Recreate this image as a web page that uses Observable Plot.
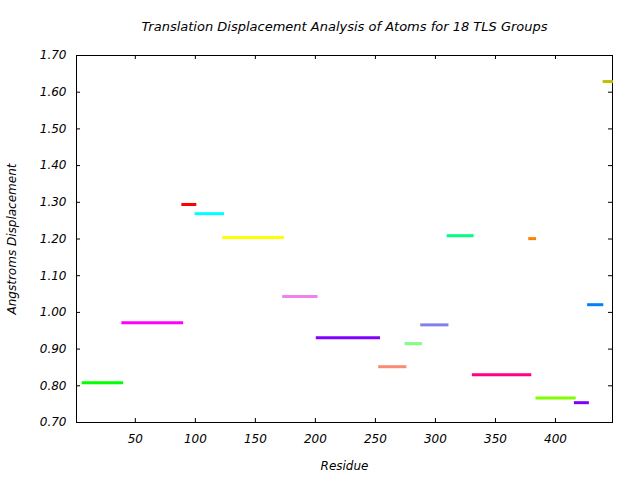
<!DOCTYPE html>
<html>
<head>
<meta charset="utf-8">
<script src="https://cdn.jsdelivr.net/npm/d3@7"></script>
<script src="https://cdn.jsdelivr.net/npm/@observablehq/plot@0.6"></script>
<style>
  html, body { margin: 0; padding: 0; background: #fff; }
  svg { font-family: "DejaVu Sans", sans-serif; font-style: italic; }
</style>
</head>
<body>
<div id="chart"></div>
<script>
// TLS group residue ranges, displacement values, and colors
const groupStart = [7, 40, 90, 101, 124, 174, 202, 254, 276, 289, 311, 332, 379, 385, 417, 428, 441];
const groupEnd   = [39, 89, 100, 123, 173, 201, 253, 275, 288, 310, 331, 379, 383, 416, 427, 439, 447];
const displacement = [0.808, 0.972, 1.294, 1.269, 1.204, 1.043, 0.931, 0.852, 0.915, 0.966, 1.209, 0.830, 1.201, 0.767, 0.754, 1.021, 1.629];
const groupColor = ["#00ff00", "#ff00ff", "#ff0000", "#00ffff", "#ffff00", "#ee82ee", "#8000ff", "#fa8a72",
                    "#80ff80", "#8080f0", "#00ff80", "#ff0080", "#ff8000", "#80ff00", "#8000ff", "#0080ff", "#c0c000"];
const xTicks = [50, 100, 150, 200, 250, 300, 350, 400];
const yTicks = [0.70, 0.80, 0.90, 1.00, 1.10, 1.20, 1.30, 1.40, 1.50, 1.60, 1.70];
const xDomain = [1, 447.5];
const yDomain = [0.70, 1.70];
const titleText = "Translation Displacement Analysis of Atoms for 18 TLS Groups";
const xLabel = "Residue";
const yLabel = "Angstroms Displacement";

const groups = groupStart.map((s, i) => ({start: s, end: groupEnd[i], value: displacement[i], color: groupColor[i]}));

const W = 640, H = 480;
const mL = 76, mR = 28, mT = 55, mB = 58;
const plotW = W - mL - mR, plotH = H - mT - mB;
const tickLen = 4;

const chart = Plot.plot({
  width: W,
  height: H,
  marginLeft: mL,
  marginRight: mR,
  marginTop: mT,
  marginBottom: mB,
  style: {fontSize: "12px", fontFamily: "DejaVu Sans, sans-serif", fontStyle: "italic", color: "#000", background: "#fff"},
  x: {domain: xDomain},
  y: {domain: yDomain},
  color: {type: "identity"},
  marks: [
    Plot.frame({stroke: "#000", strokeWidth: 1}),
    // inward ticks on all four sides
    Plot.tickY(yTicks, {y: d => d, insetRight: plotW - tickLen, stroke: "#000"}),
    Plot.tickY(yTicks, {y: d => d, insetLeft: plotW - tickLen, stroke: "#000"}),
    Plot.tickX(xTicks, {x: d => d, insetTop: plotH - tickLen, stroke: "#000"}),
    Plot.tickX(xTicks, {x: d => d, insetBottom: plotH - tickLen, stroke: "#000"}),
    Plot.axisY({ticks: yTicks, tickFormat: d => d.toFixed(2), tickSize: 0, tickPadding: 10, label: null, fontSize: 12}),
    Plot.axisX({ticks: xTicks, tickFormat: d => String(d), tickSize: 0, tickPadding: 12, label: null, fontSize: 12}),
    Plot.ruleY(groups, {x1: "start", x2: "end", y: "value", stroke: "color", strokeWidth: 3, strokeLinecap: "square"}),
    Plot.text([titleText], {frameAnchor: "top", dy: -29, text: d => d, fontSize: 13, fontStyle: "italic", lineAnchor: "middle"}),
    Plot.text([xLabel], {frameAnchor: "bottom", dy: 44, text: d => d, fontSize: 12, fontStyle: "italic", lineAnchor: "middle"}),
    Plot.text([yLabel], {frameAnchor: "left", dx: -64, rotate: -90, textAnchor: "middle", text: d => d, fontSize: 12, fontStyle: "italic", lineAnchor: "middle"})
  ]
});
document.getElementById("chart").appendChild(chart);
</script>
</body>
</html>
